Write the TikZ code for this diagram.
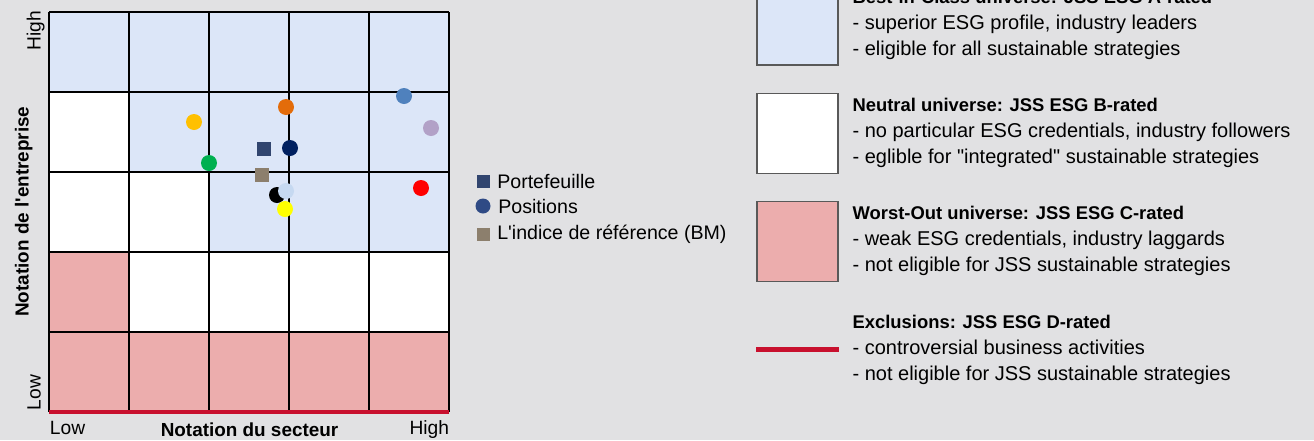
\documentclass[tikz,border=0pt]{standalone}
\usepackage{fontspec}
\setmainfont{Liberation Sans}
\usetikzlibrary{positioning}
\definecolor{bggray}{HTML}{E1E1E3}
\definecolor{bestblue}{HTML}{DCE6F8}
\definecolor{worstpink}{HTML}{ECADAD}
\definecolor{exclred}{HTML}{C8102E}
\definecolor{pfnavy}{HTML}{31456F}
\definecolor{posnavy}{HTML}{2F4A85}
\definecolor{bmtaupe}{HTML}{8C7F6D}
\tikzset{
gridline/.style={black, line width=0.6pt},
dot/.style={circle, inner sep=0pt, minimum size=8pt},
sqdot/.style={rectangle, inner sep=0pt, minimum size=7pt},
axislabel/.style={inner sep=0pt, font=\fontsize{9.6}{11}\selectfont},
axistitle/.style={inner sep=0pt, font=\fontsize{9.45}{11}\selectfont\bfseries},
keytext/.style={inner sep=0pt, font=\fontsize{9.8}{11}\selectfont},
unibox/.style={draw=black!65, line width=0.6pt, minimum width=40.5pt, minimum height=40pt, inner sep=0pt},
unitext/.style={inner sep=0pt, align=left, font=\fontsize{10}{13}\selectfont},
}
\newcommand{\unititle}[1]{{\fontsize{9.2}{13}\selectfont\bfseries #1}}
\newcommand{\sq}{\XeTeXglyph\XeTeXcharglyph"27\relax}
\newcommand{\dq}{\XeTeXglyph\XeTeXcharglyph"22\relax}

\begin{document}
\begin{tikzpicture}[x=0.5pt, y=-0.5pt]
    \useasboundingbox (0,0) rectangle (1314,440);
    \clip (0,0) rectangle (1314,440);
    \fill[bggray] (0,0) rectangle (1314,440);

    \fill[bestblue] (49,12) -- (449,12) -- (449,252) -- (209,252) -- (209,172) -- (129,172) -- (129,92) -- (49,92) -- cycle;
    \fill[white] (49,92) -- (129,92) -- (129,172) -- (209,172) -- (209,252) -- (449,252) -- (449,332) -- (129,332) -- (129,252) -- (49,252) -- cycle;
    \fill[worstpink] (49,252) -- (129,252) -- (129,332) -- (449,332) -- (449,412) -- (49,412) -- cycle;
    \foreach \i in {0,...,5} {
        \draw[gridline] (49+80*\i,12) -- (49+80*\i,412);
        \draw[gridline] (49,12+80*\i) -- (449,12+80*\i);
    }
    \draw[exclred, line width=2pt] (49,412) -- (449,412);

    \node[dot, fill={rgb,255:red,255;green,192;blue,0}] (pos1) at (194,122) {};
    \node[dot, fill={rgb,255:red,227;green,108;blue,10}] (pos2) at (286,107) {};
    \node[dot, fill={rgb,255:red,79;green,129;blue,189}] (pos3) at (404,96) {};
    \node[dot, fill={rgb,255:red,178;green,161;blue,199}] (pos4) at (431,128) {};
    \node[dot, fill={rgb,255:red,0;green,32;blue,96}] (pos5) at (290,148) {};
    \node[dot, fill={rgb,255:red,0;green,176;blue,80}] (pos6) at (209,163) {};
    \node[dot, fill=black] (pos7) at (277,195) {};
    \node[dot, fill={rgb,255:red,198;green,217;blue,241}] (pos8) at (286,191) {};
    \node[dot, fill={rgb,255:red,255;green,255;blue,0}] (pos9) at (285,209) {};
    \node[dot, fill={rgb,255:red,255;green,0;blue,0}] (pos10) at (421,188) {};
    \node[sqdot, fill=pfnavy] (pf) at (264,149) {};
    \node[sqdot, fill=bmtaupe] (bm) at (262,175) {};

    \node[axislabel, rotate=90, anchor=base] (yHigh) at (40.7,31) {High};
    \node[axislabel, rotate=90, anchor=base] (yLow) at (40.7,392.5) {Low};
    \node[axistitle, rotate=90, anchor=base] (yTitle) at (28.5,211.7) {Notation de l\sq entreprise};
    \node[axislabel, anchor=base west] (xLow) at (49.5,434) {Low};
    \node[axislabel, anchor=base east] (xHigh) at (449.5,434) {High};
    \node[axistitle, anchor=base] (xTitle) at (249.5,436.2) {Notation du secteur};

    \node[sqdot, fill=pfnavy, minimum size=6.5pt] (keyPf) at (483,181) {};
    \node[keytext, right=3.5pt of keyPf] (keyPfText) {Portefeuille};
    \node[dot, fill=posnavy, minimum size=7.5pt] (keyPos) at (483,206) {};
    \node[keytext, right=3.5pt of keyPos] (keyPosText) {Positions};
    \node[sqdot, fill=bmtaupe, minimum size=6.5pt] (keyBm) at (483,234) {};
    \node[keytext, right=3.5pt of keyBm] (keyBmText) {L\sq indice de référence (BM)};

    \node[unibox, fill=bestblue] (boxA) at (797.5,25) {};
    \node[unibox, fill=white, below=13.5pt of boxA] (boxB) {};
    \node[unibox, fill=worstpink, below=13.5pt of boxB] (boxC) {};
    \node[unibox, draw=none, below=13.5pt of boxC] (boxD) {};
    \draw[exclred, line width=2.75pt] (boxD.west) -- (boxD.east);

    \node[unitext, right=6.8pt of boxA] (txtA) {\unititle{Best-in-Class universe: JSS ESG A-rated}\\- superior ESG profile, industry leaders\\- eligible for all sustainable strategies};
    \node[unitext, right=6.8pt of boxB] (txtB) {\unititle{Neutral universe: JSS ESG B-rated}\\- no particular ESG credentials, industry followers\\- eglible for \dq integrated\dq\ sustainable strategies};
    \node[unitext, right=6.8pt of boxC] (txtC) {\unititle{Worst-Out universe: JSS ESG C-rated}\\- weak ESG credentials, industry laggards\\- not eligible for JSS sustainable strategies};
    \node[unitext, right=6.8pt of boxD] (txtD) {\unititle{Exclusions: JSS ESG D-rated}\\- controversial business activities\\- not eligible for JSS sustainable strategies};
\end{tikzpicture}
\end{document}
